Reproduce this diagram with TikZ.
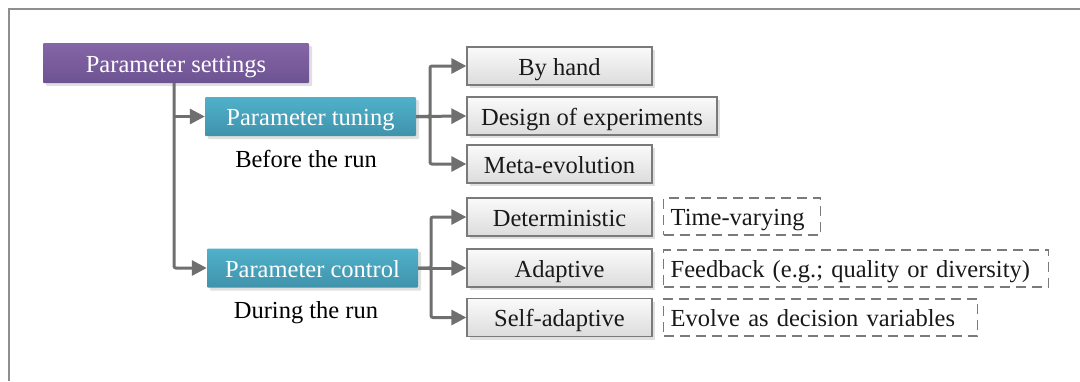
\documentclass[tikz,border=0pt]{standalone}
\usepackage{fontspec}
\setmainfont{Liberation Serif}
\usetikzlibrary{arrows.meta,shadows}
\definecolor{frameGray}{HTML}{8E8E8E}
\definecolor{linkGray}{HTML}{6F6F6F}
\definecolor{purpTop}{HTML}{8566A6}
\definecolor{purpBot}{HTML}{6D5291}
\definecolor{tealTop}{HTML}{50B1CA}
\definecolor{tealBot}{HTML}{3F93AB}
\definecolor{boxEdge}{HTML}{7A7A7A}
\definecolor{boxTop}{HTML}{FAFAFA}
\definecolor{boxBot}{HTML}{DCDCDC}
\tikzset{
  every node/.style={font=\fontsize{24.5}{28}\selectfont, inner sep=0pt, text height=18pt, text depth=0pt},
  softshadow/.style={drop shadow={shadow xshift=3pt, shadow yshift=-3pt, fill=black!12, opacity=1}},
  headbox/.style={softshadow, minimum height=40pt, text=white, rounded corners=1pt},
  rootbox/.style={headbox, top color=purpTop, bottom color=purpBot},
  phasebox/.style={headbox, top color=tealTop, bottom color=tealBot, minimum height=39pt},
  leafbox/.style={softshadow, draw=boxEdge, line width=1.3pt, top color=boxTop, bottom color=boxBot,
                  minimum height=38pt, text=black!90},
  notebox/.style={draw=boxEdge, line width=1.4pt, dash pattern=on 10pt off 6pt, anchor=west,
                  align=left, inner xsep=7pt, minimum height=37pt, text=black!90},
  link/.style={draw=linkGray, line width=3pt, rounded corners=2pt},
  linkarrow/.style={link, -{Triangle[length=15pt,width=15pt]}},
}
\begin{document}
\begin{tikzpicture}[x=1pt, y=-1pt]
  \useasboundingbox (0,0) rectangle (1080,381);
  % outer frame (continues past the right and bottom edges)
  \coordinate (frameTR) at (1080,9);
  \coordinate (frameTL) at (9,9);
  \coordinate (frameBL) at (9,381);
  \draw[frameGray, line width=2pt] (frameTR) -- (frameTL) -- (frameBL);

  % main hierarchy
  \node[rootbox, minimum width=266pt] (settings) at (176,63) {Parameter settings};
  \node[phasebox, minimum width=211pt] (tuning) at (310.5,116.5) {Parameter tuning};
  \node[phasebox, minimum width=211pt] (control) at (312.5,268) {Parameter control};
  \node (before) at (306,158) {Before the run};
  \node (during) at (306,309) {During the run};

  % tuning methods
  \node[leafbox, minimum width=185pt] (hand) at (559.5,66) {By hand};
  \node[leafbox, minimum width=250pt] (doe) at (592,116) {Design of experiments};
  \node[leafbox, minimum width=185pt] (meta) at (559.5,164) {Meta-evolution};

  % control methods
  \node[leafbox, minimum width=185pt] (determ) at (559.5,217) {Deterministic};
  \node[leafbox, minimum width=185pt] (adapt) at (559.5,268) {Adaptive};
  \node[leafbox, minimum width=185pt] (selfad) at (559.5,317.5) {Self-adaptive};

  % descriptions of the control methods
  \node[notebox, text width=143pt] (timevar) at (663,216.5) {Time-varying};
  \node[notebox, text width=371pt] (feedback) at (663,268.5) {Feedback (e.g.; quality or diversity)};
  \node[notebox, text width=300pt] (evolve) at (663,317.5) {Evolve as decision variables};

  % trunk from the root
  \coordinate (trunk) at ([xshift=-2pt]settings.south);
  \draw[linkarrow] (trunk) |- (control.west);
  \draw[linkarrow] (trunk |- tuning.west) -- (tuning.west);

  % tuning branch
  \coordinate (tjoin) at (430,116.5);
  \draw[linkarrow] (tuning.east) -- (tjoin) |- (hand.west);
  \draw[linkarrow] (tuning.east) -- (tjoin) |- (meta.west);
  \draw[linkarrow] (tuning.east) -- (doe.west);

  % control branch
  \coordinate (cjoin) at (431,268);
  \draw[linkarrow] (control.east) -- (cjoin) |- (determ.west);
  \draw[linkarrow] (control.east) -- (cjoin) |- (selfad.west);
  \draw[linkarrow] (control.east) -- (adapt.west);
\end{tikzpicture}
\end{document}
